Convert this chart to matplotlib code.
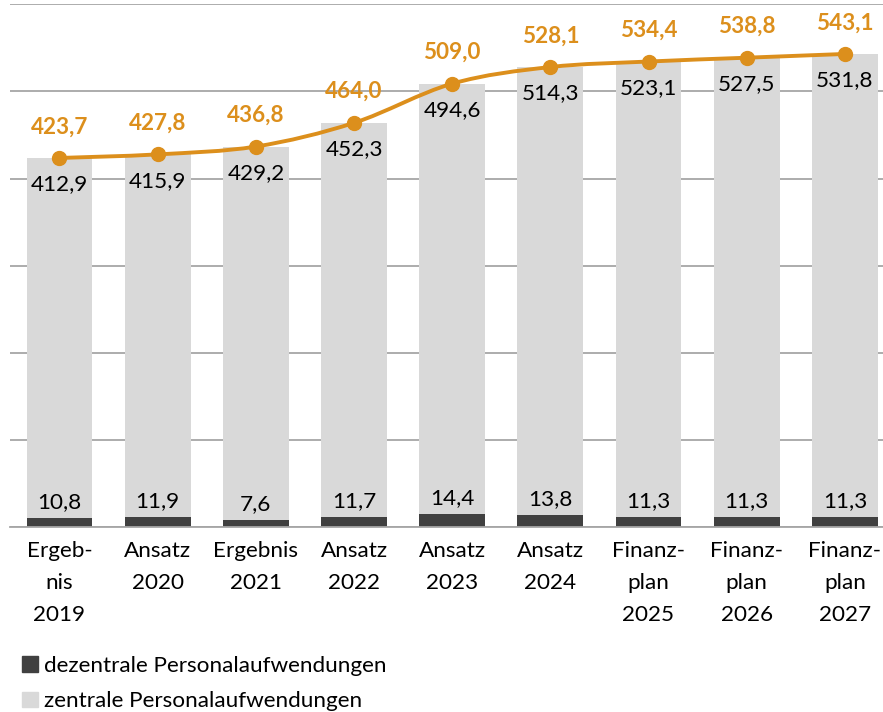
import numpy as np
import matplotlib.pyplot as plt
from matplotlib.path import Path
from matplotlib.patches import PathPatch, Patch

# Personalaufwendungen (Mio.)
categories = ["Ergeb-\nnis\n2019", "Ansatz\n2020", "Ergebnis\n2021", "Ansatz\n2022",
              "Ansatz\n2023", "Ansatz\n2024", "Finanz-\nplan\n2025",
              "Finanz-\nplan\n2026", "Finanz-\nplan\n2027"]
dezentral = [10.8, 11.9, 7.6, 11.7, 14.4, 13.8, 11.3, 11.3, 11.3]
zentral = [412.9, 415.9, 429.2, 452.3, 494.6, 514.3, 523.1, 527.5, 531.8]
gesamt = [423.7, 427.8, 436.8, 464.0, 509.0, 528.1, 534.4, 538.8, 543.1]

def fmt(v):
    return f"{v:.1f}".replace(".", ",")

plt.rcParams["font.family"] = ["Lato", "DejaVu Sans"]
fs = 16.2
dark = "#404040"
light = "#d9d9d9"
orange = "#dc8f1c"

fig = plt.figure(figsize=(8.83, 7.12), dpi=100)
ax = fig.add_axes([10.4 / 883, 185 / 712, 883.6 / 883, 522.6 / 712])

x = np.arange(len(categories))
ax.bar(x, dezentral, width=0.67, color=dark, zorder=2)
ax.bar(x, zentral, width=0.67, bottom=dezentral, color=light, zorder=2)

# smoothed line (Excel-style) through the totals
pts = np.column_stack([x, gesamt]).astype(float)
verts = [pts[0]]
codes = [Path.MOVETO]
for i in range(len(pts) - 1):
    p0 = pts[max(i - 1, 0)]
    p1 = pts[i]
    p2 = pts[i + 1]
    p3 = pts[min(i + 2, len(pts) - 1)]
    verts += [p1 + (p2 - p0) / 6, p2 - (p3 - p1) / 6, p2]
    codes += [Path.CURVE4] * 3
ax.add_patch(PathPatch(Path(verts, codes), facecolor="none", edgecolor=orange,
                       lw=2.8, zorder=3, capstyle="round"))
ax.plot(x, gesamt, "o", color=orange, markersize=10, zorder=4)

for xi, d, z, g in zip(x, dezentral, zentral, gesamt):
    ax.annotate(fmt(g), (xi, g), xytext=(0, 22.5), textcoords="offset points",
                ha="center", va="center", fontsize=fs, fontweight="bold", color=orange)
    ax.annotate(fmt(z), (xi, d + z), xytext=(0, -19), textcoords="offset points",
                ha="center", va="center", fontsize=fs, color="black")
    ax.annotate(fmt(d), (xi, d), xytext=(0, 11.5), textcoords="offset points",
                ha="center", va="center", fontsize=fs, color="black")

ax.set_xlim(-0.5, len(categories) - 0.5)
ax.set_ylim(0, 600)
ax.set_yticks(range(0, 601, 100))
ax.yaxis.grid(True, color="#a6a6a6", lw=1.3, zorder=0)
ax.set_axisbelow(True)
ax.tick_params(axis="y", left=False, labelleft=False)
ax.set_xticks(x)
ax.set_xticklabels(categories, fontsize=fs, linespacing=1.74)
ax.tick_params(axis="x", length=0, pad=10)
for s in ["top", "right", "left"]:
    ax.spines[s].set_visible(False)
ax.spines["bottom"].set_color("#a6a6a6")
ax.spines["bottom"].set_linewidth(1.3)

handles = [Patch(color=dark, label="dezentrale Personalaufwendungen"),
           Patch(color=light, label="zentrale Personalaufwendungen")]
fig.legend(handles=handles, loc="upper left", bbox_to_anchor=(22 / 883, 1 - 656 / 712),
           frameon=False, fontsize=fs, handlelength=0.7, handleheight=0.7,
           handletextpad=0.3, labelspacing=0.68, borderpad=0, borderaxespad=0)

fig.savefig("out.png", dpi=100)
